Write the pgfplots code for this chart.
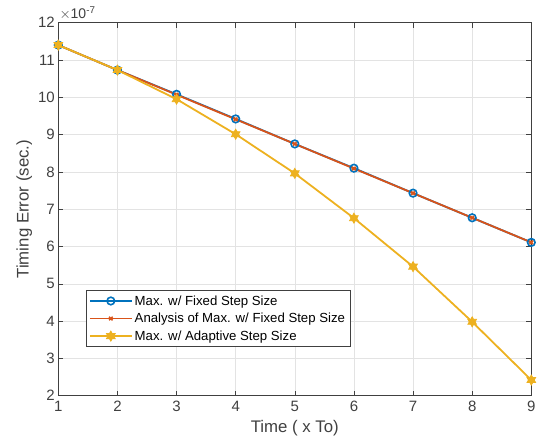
\documentclass[border=0pt]{standalone}
\usepackage{fontspec}
\setmainfont{Liberation Sans}
\usepackage{pgfplots}
\pgfplotsset{compat=1.18}
\definecolor{mblue}{rgb}{0,0.447,0.741}
\definecolor{morange}{rgb}{0.85,0.325,0.098}
\definecolor{myellow}{rgb}{0.929,0.694,0.125}
\definecolor{maxis}{rgb}{0.25,0.25,0.25}
\pgfdeclareplotmark{hexagram}{%
  \pgfpathmoveto{\pgfqpointpolar{90}{\pgfplotmarksize}}%
  \pgfpathlineto{\pgfqpointpolar{210}{\pgfplotmarksize}}%
  \pgfpathlineto{\pgfqpointpolar{330}{\pgfplotmarksize}}%
  \pgfpathclose
  \pgfpathmoveto{\pgfqpointpolar{270}{\pgfplotmarksize}}%
  \pgfpathlineto{\pgfqpointpolar{30}{\pgfplotmarksize}}%
  \pgfpathlineto{\pgfqpointpolar{150}{\pgfplotmarksize}}%
  \pgfpathclose
  \pgfusepathqfillstroke}
\begin{document}
\begin{tikzpicture}
\useasboundingbox (-58.3pt,-51.3pt) rectangle (489.7pt,395.7pt);
\begin{axis}[
  at={(0,0)}, anchor=south west,
  scale only axis,
  width=473pt, height=373pt,
  xmin=1, xmax=9, ymin=2, ymax=12,
  xtick={1,...,9}, ytick={2,...,12},
  tick align=inside,
  major tick length=5pt,
  grid=major,
  grid style={gray!22, line width=0.5pt},
  axis line style={maxis, line width=0.7pt},
  tick style={maxis, line width=0.6pt},
  ticklabel style={font=\fontsize{15}{17}\selectfont, text=maxis},
  xticklabel style={yshift=-2pt},
  /pgf/number format/assume math mode=true,
  xlabel={Time ( x To)},
  ylabel={Timing Error (sec.)},
  label style={font=\fontsize{16.8}{19}\selectfont, text=maxis, inner sep=0pt},
  xlabel style={at={(axis description cs:0.5,-0.108)}, anchor=south},
  ylabel style={at={(axis description cs:-0.055,0.5)}, anchor=south},
  legend style={at={(0.058,0.131)}, anchor=south west, font=\fontsize{13.2}{15}\selectfont,
    draw=maxis, row sep=2.5pt, inner xsep=3pt, inner ysep=3pt, legend cell align=left},
  legend image code/.code={%
    \draw[mark repeat=2,mark phase=2,#1] plot coordinates {(0pt,0pt) (21pt,0pt) (42pt,0pt)};},
]
\addplot[mblue, line width=1.8pt, mark=o, mark size=3.8pt, mark options={line width=1.6pt}]
  coordinates {(1,11.40) (2,10.73) (3,10.08) (4,9.42) (5,8.75) (6,8.10) (7,7.43) (8,6.77) (9,6.11)};
\addlegendentry{Max. w/ Fixed Step Size}
\addplot[morange, line width=1.8pt, mark=x, mark size=2.5pt, mark options={line width=1.5pt}]
  coordinates {(1,11.40) (2,10.73) (3,10.07) (4,9.41) (5,8.75) (6,8.09) (7,7.43) (8,6.77) (9,6.11)};
\addlegendentry{Analysis of Max. w/ Fixed Step Size}
\addplot[myellow, line width=1.8pt, mark=hexagram, mark size=5pt, mark options={line width=0.8pt, fill=myellow}]
  coordinates {(1,11.40) (2,10.73) (3,9.95) (4,9.01) (5,7.96) (6,6.76) (7,5.46) (8,3.98) (9,2.42)};
\addlegendentry{Max. w/ Adaptive Step Size}
\end{axis}
\node[anchor=south west, inner sep=0pt, font=\fontsize{14}{16}\selectfont, text=maxis] at (1pt,376pt) {$\times$10\textsuperscript{-7}};
\end{tikzpicture}
\end{document}
